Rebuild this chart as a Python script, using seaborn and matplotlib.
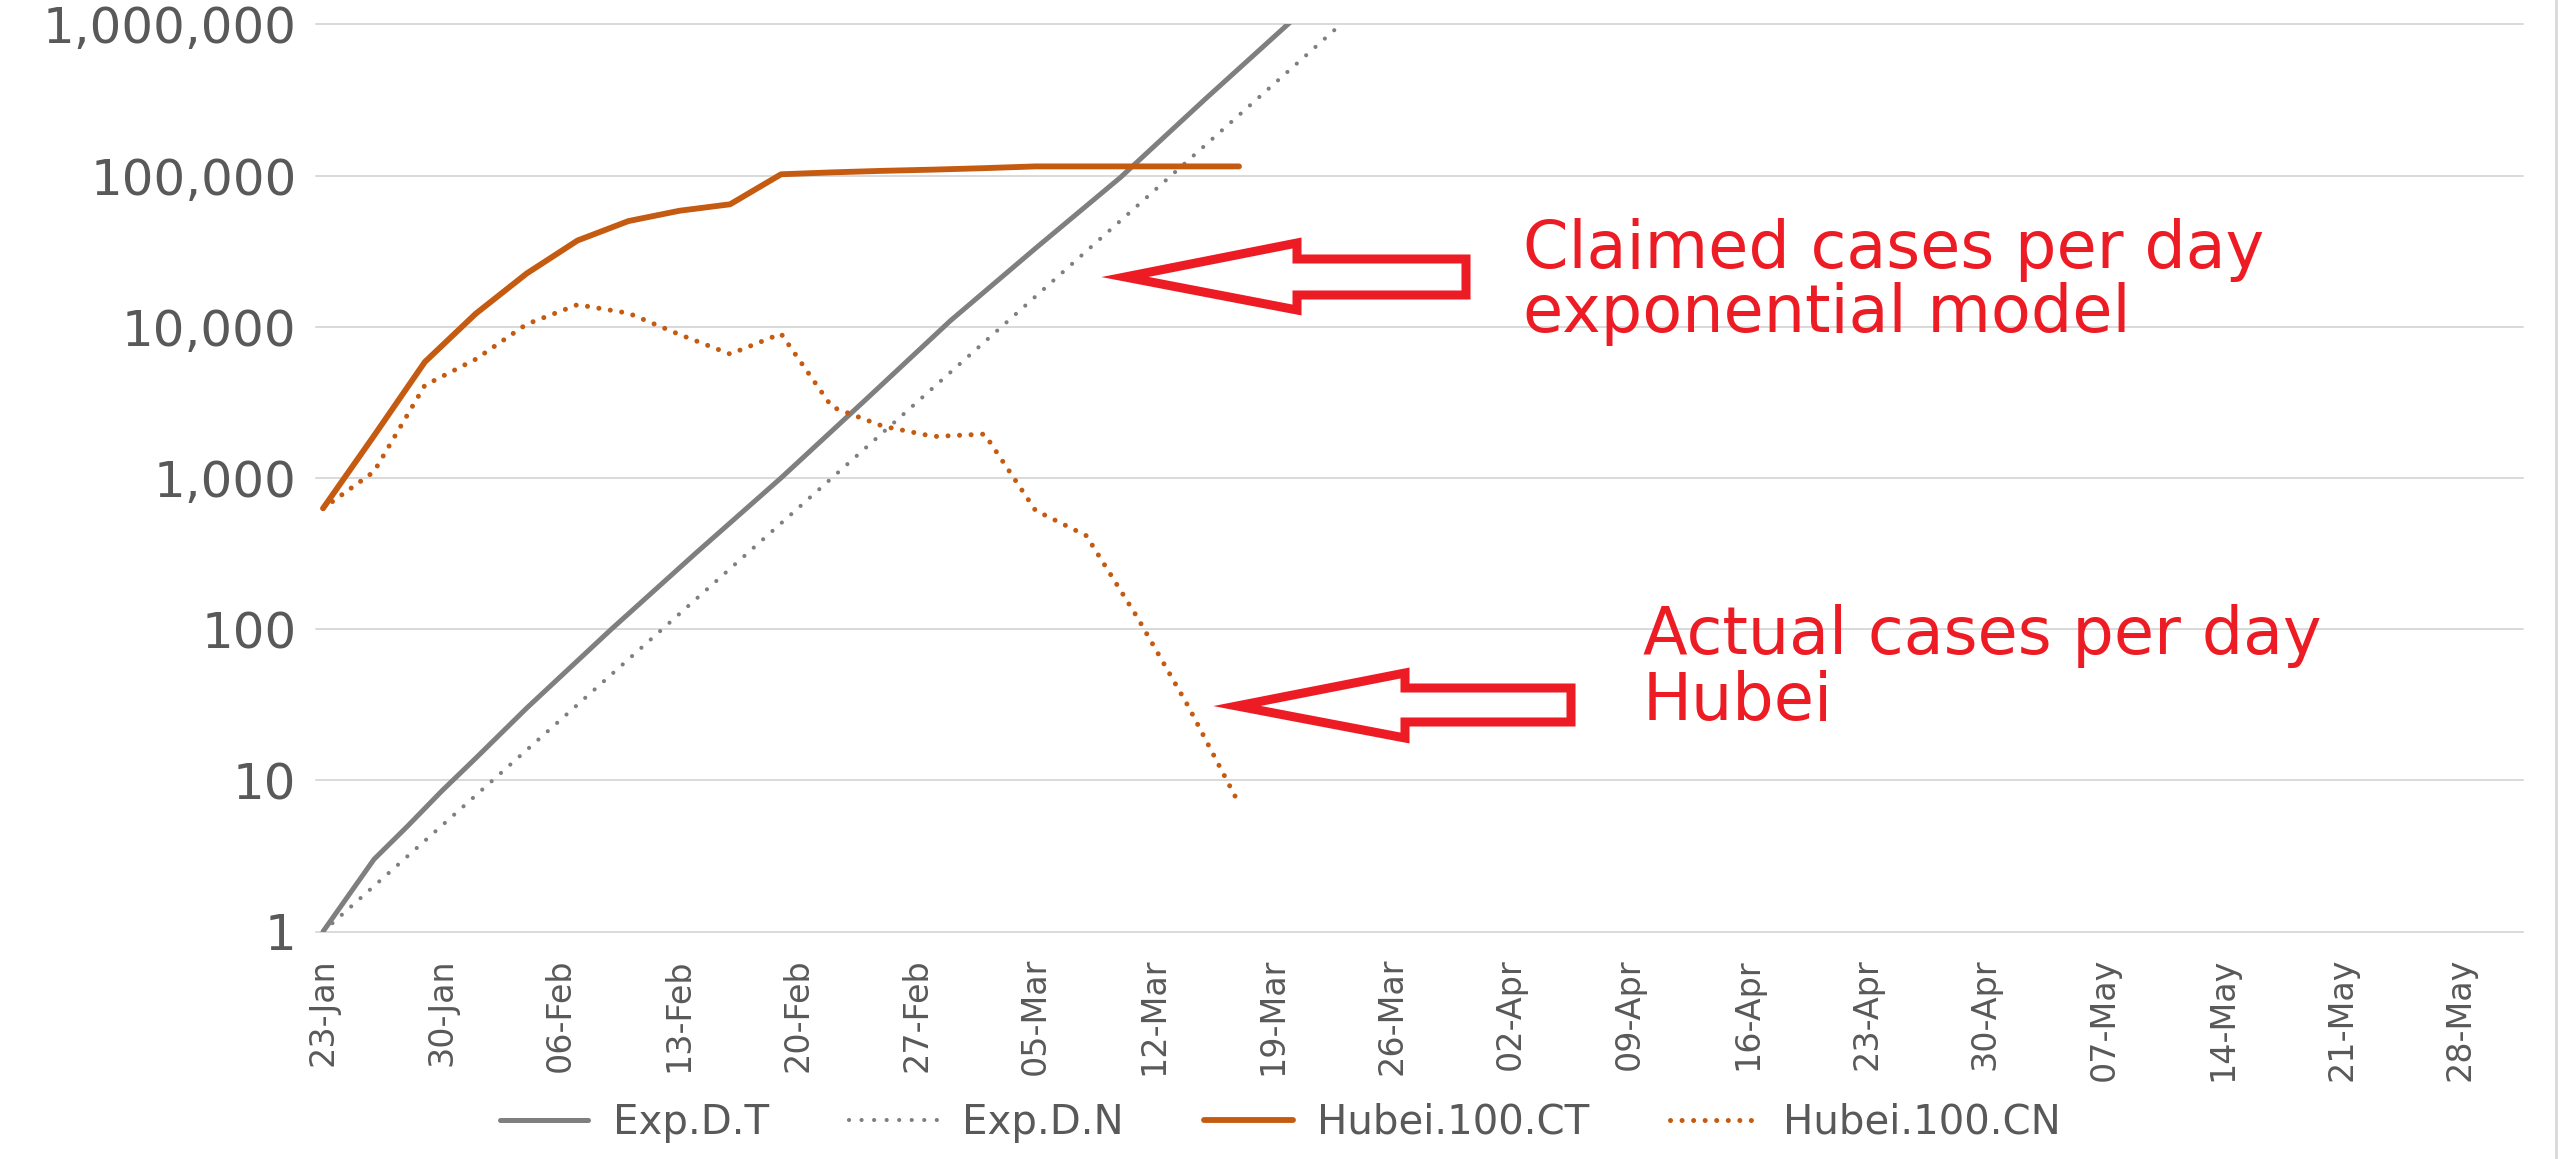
import numpy as np
import pandas as pd
import matplotlib
matplotlib.use("Agg")
import matplotlib.pyplot as plt
import matplotlib.dates as mdates
from matplotlib.lines import Line2D
from matplotlib.patches import Polygon
from matplotlib.ticker import FuncFormatter, LogLocator, NullLocator
import seaborn as sns

# --- data (day offsets from 23-Jan-2020) ---
START = pd.Timestamp("2020-01-23")

exp_dt_days = [0, 3, 5, 7, 9, 12, 17, 22, 27, 32, 37, 42, 47, 52, 57]
exp_dt_vals = [1, 3, 5, 8.5, 14, 30, 100, 320, 1000, 3300, 11000, 33000, 97000, 320000, 1030000]

exp_dn_days = [0, 10, 20, 30, 40, 50, 60]
exp_dn_vals = [1, 10, 100, 1000, 10000, 100000, 1000000]

hubei_ct_days = [0, 3, 6, 9, 12, 15, 18, 21, 24, 27, 30, 33, 36, 39, 42, 45, 48, 51, 54]
hubei_ct_vals = [630, 1900, 5850, 12200, 22500, 37200, 50000, 58500, 64600, 102000,
                 105000, 107500, 109500, 112000, 115000, 115000, 115000, 115000, 115000]

hubei_cn_days = [0, 3, 6, 9, 12, 15, 18, 21, 24, 27, 30, 33, 36, 39, 42, 45, 48, 51, 54]
hubei_cn_vals = [630, 1100, 4100, 6100, 10400, 14000, 12300, 8900, 6600, 9000,
                 2950, 2200, 1880, 1950, 610, 415, 120, 31, 7]

series_names = ["Exp.D.T", "Exp.D.N", "Hubei.100.CT", "Hubei.100.CN"]
tick_dates = pd.date_range("2020-01-23", "2020-05-28", freq="7D")

GREY = "#7F7F7F"
ORANGE = "#C55A11"
RED = "#ED1C24"
TEXT = "#595959"
GRID = "#D9D9D9"

styles = {
    "Exp.D.T": dict(color=GREY, lw=3.6, linestyle="-"),
    "Exp.D.N": dict(color=GREY, lw=3.0, linestyle=(0, (0.01, 3.0)), dash_capstyle="round"),
    "Hubei.100.CT": dict(color=ORANGE, lw=4.2, linestyle="-"),
    "Hubei.100.CN": dict(color=ORANGE, lw=3.6, linestyle=(0, (0.01, 2.3)), dash_capstyle="round"),
}
series = {
    "Exp.D.T": (exp_dt_days, exp_dt_vals),
    "Exp.D.N": (exp_dn_days, exp_dn_vals),
    "Hubei.100.CT": (hubei_ct_days, hubei_ct_vals),
    "Hubei.100.CN": (hubei_cn_days, hubei_cn_vals),
}

sns.set_theme(style="white")
plt.rcParams["font.family"] = ["DejaVu Sans"]

W, H = 2560, 1159
fig = plt.figure(figsize=(W / 100, H / 100), dpi=100, facecolor="white")
ax = fig.add_axes([316 / W, 1 - 931.5 / H, (2523 - 316) / W, (931.5 - 24.4) / H])

for name in series_names:
    days, vals = series[name]
    dates = START + pd.to_timedelta(days, unit="D")
    sns.lineplot(x=dates, y=vals, ax=ax, label=name, **styles[name])

# --- axes ---
ax.set_yscale("log")
ax.set_ylim(1, 1e6)
ax.yaxis.set_major_locator(LogLocator(base=10, numticks=10))
ax.yaxis.set_minor_locator(NullLocator())
ax.yaxis.set_major_formatter(FuncFormatter(lambda v, p: f"{v:,.0f}"))
ax.set_xlim(START - pd.Timedelta(hours=10), START + pd.Timedelta(days=129.7))
ax.set_xticks(tick_dates)
ax.xaxis.set_major_formatter(mdates.DateFormatter("%d-%b"))
ax.set_xlabel("")
ax.set_ylabel("")

ax.tick_params(axis="x", labelsize=24, labelcolor=TEXT, length=0, pad=19, rotation=90)
ax.tick_params(axis="y", labelsize=36, labelcolor=TEXT, length=0, pad=14)

ax.grid(False)
ax.yaxis.grid(True, color=GRID, lw=1.4)
ax.set_axisbelow(True)
for line in ax.get_ygridlines():
    line.set_clip_on(False)
for sp in ax.spines.values():
    sp.set_visible(False)

# --- legend at the bottom ---
handles, labels = ax.get_legend_handles_labels()
if ax.get_legend() is not None:
    ax.get_legend().remove()
fig.legend(handles, labels, loc="center", bbox_to_anchor=(0.5, 1 - 1123 / H), ncol=4,
           frameon=False, fontsize=29, handlelength=2.2, handletextpad=0.6,
           columnspacing=2.0, labelcolor=TEXT)

# --- annotations: hollow red arrows + text ---
def fig_pts(pts):
    return [(x / W, 1 - y / H) for x, y in pts]

arrow_top = [(1125, 277), (1297, 243), (1297, 259), (1466, 259),
             (1466, 295), (1297, 295), (1297, 310)]
arrow_bot = [(1237, 706), (1405, 673), (1405, 688), (1571, 688),
             (1571, 722), (1405, 722), (1405, 738)]
for pts in (arrow_top, arrow_bot):
    fig.add_artist(Polygon(fig_pts(pts), closed=True, fill=False, edgecolor=RED,
                           lw=6.5, joinstyle="miter", transform=fig.transFigure))

notes = [
    (1523, 268, "Claimed cases per day"),
    (1523, 332, "exponential model"),
    (1643, 654, "Actual cases per day"),
    (1643, 720, "Hubei"),
]
for x, y, s in notes:
    fig.text(x / W, 1 - y / H, s, color=RED, fontsize=47, ha="left", va="baseline")

# faint chart-area border on the right edge
fig.add_artist(Line2D([2556 / W, 2556 / W], [0, 1], color=GRID, lw=2,
                      transform=fig.transFigure))

fig.savefig("out.png", dpi=100, facecolor="white")
